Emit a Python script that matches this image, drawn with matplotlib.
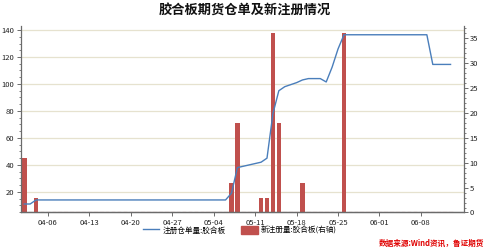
import matplotlib
matplotlib.use("Agg")
import matplotlib.pyplot as plt
import matplotlib.dates as mdates
import matplotlib.transforms as mtransforms
from matplotlib.ticker import MultipleLocator
import pandas as pd

plt.rcParams['font.family'] = ['Noto Sans CJK SC', 'DejaVu Sans']
plt.rcParams['axes.unicode_minus'] = False

# 注册仓单量:胶合板 (左轴), points where the line changes
line_dates = ["2020-04-02", "2020-04-03", "2020-04-04", "2020-05-06", "2020-05-07",
              "2020-05-08", "2020-05-11", "2020-05-12", "2020-05-13", "2020-05-14",
              "2020-05-15", "2020-05-16", "2020-05-18", "2020-05-19", "2020-05-20",
              "2020-05-22", "2020-05-23", "2020-05-24", "2020-05-25", "2020-05-26",
              "2020-06-09", "2020-06-10", "2020-06-13"]
line_values = [11, 11, 14, 14, 19,
               38, 41, 42, 45, 78,
               95, 98, 101, 103, 104,
               104, 101.5, 112.5, 126, 136.5,
               136.5, 114.5, 114.5]

# 新注册量:胶合板 (右轴)
bar_dates = ["2020-04-02", "2020-04-04", "2020-05-07", "2020-05-08", "2020-05-12",
             "2020-05-13", "2020-05-14", "2020-05-15", "2020-05-19", "2020-05-26"]
bar_values = [11, 3, 6, 18, 3, 3, 36, 18, 6, 36]

tick_labels = ["04-06", "04-13", "04-20", "04-27", "05-04",
               "05-11", "05-18", "05-25", "06-01", "06-08"]

left_ticks = [20, 40, 60, 80, 100, 120, 140]
right_ticks = [0, 5, 10, 15, 20, 25, 30, 35]

line_color = "#4a7ebb"
bar_color = "#c0504d"
grid_color = "#e6e2cf"
axis_color = "#6b6b6b"

ld = pd.to_datetime(line_dates)
bd = pd.to_datetime(bar_dates)
all_days = pd.date_range("2020-04-02", "2020-06-13")
ticks = pd.to_datetime(["2020-" + t for t in tick_labels])

fig = plt.figure(figsize=(4.89, 2.49), dpi=100)
ax = fig.add_axes([0.0423, 0.1466, 0.9057, 0.749])
ax2 = ax.twinx()

# bars on the right axis (zero days show as thin red marks on the baseline)
zero_days = [d for d in all_days if d not in set(bd)]
ax2.bar(zero_days, [0] * len(zero_days), width=0.78, color=bar_color,
        edgecolor=bar_color, linewidth=0.8, zorder=2)
ax2.bar(bd, bar_values, width=0.78, color=bar_color, linewidth=0, zorder=2)
ax2.set_ylim(0, 37.5)

# line on the left axis, drawn over the bars
ax.set_zorder(ax2.get_zorder() + 1)
ax.patch.set_visible(False)
ax.plot(ld, line_values, color=line_color, lw=1.0, zorder=3)
ax.set_ylim(4.7, 143)

# grid from the left axis, kept behind the bars
trans = mtransforms.blended_transform_factory(ax2.transAxes, ax.transData)
for v in left_ticks:
    ax2.plot([0, 1], [v, v], transform=trans, color=grid_color, lw=0.9, zorder=1)

ax.set_xlim(mdates.date2num(pd.Timestamp("2020-04-01")) + 0.4,
            mdates.date2num(pd.Timestamp("2020-06-15")) + 0.2)
ax.set_xticks(ticks)
ax.set_xticklabels(tick_labels)
ax.set_yticks(left_ticks)
ax.yaxis.set_minor_locator(MultipleLocator(5))
ax2.set_yticks(right_ticks)
ax2.yaxis.set_minor_locator(MultipleLocator(1))

for a in (ax, ax2):
    a.spines['top'].set_visible(False)
    for s in ('left', 'right', 'bottom'):
        a.spines[s].set_color(axis_color)
        a.spines[s].set_linewidth(0.9)
    a.tick_params(axis='both', which='major', labelsize=5.5, length=3,
                  width=0.7, color=axis_color, labelcolor="#222222", pad=1.5)
    a.tick_params(axis='y', which='minor', length=1.5, width=0.6, color=axis_color)
ax2.spines['left'].set_visible(False)
ax.spines['right'].set_visible(False)

fig.text(0.5, 0.958, "胶合板期货仓单及新注册情况", ha='center', va='center',
         fontsize=9.5, fontweight='bold', color="#111111")

h1, = ax.plot([], [], color=line_color, lw=1.0)
h2 = plt.Rectangle((0, 0), 1, 1, color=bar_color)
fig.legend([h1, h2], ["注册仓单量:胶合板", "新注册量:胶合板(右轴)"],
           loc='center', bbox_to_anchor=(0.49, 0.075), ncol=2, frameon=False,
           fontsize=5.5, handlelength=2.2, handleheight=1.2, handletextpad=0.4,
           columnspacing=2.0)

fig.text(0.99, 0.025, "数据来源:Wind资讯，鲁证期货", ha='right', va='center',
         fontsize=5.5, color="#e00000", fontstyle='italic', fontweight='bold')

fig.savefig("out.png", dpi=100)
